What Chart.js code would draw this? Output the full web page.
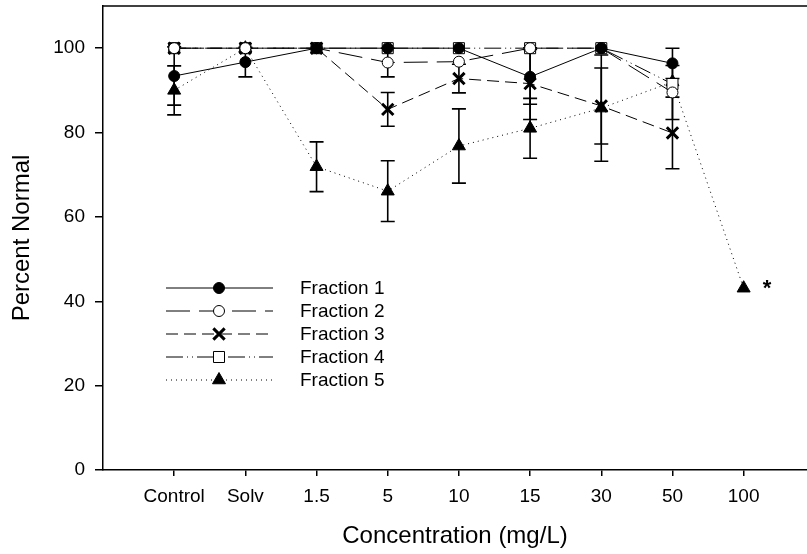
<!DOCTYPE html>
<html>
<head>
<meta charset="utf-8">
<script src="https://cdn.jsdelivr.net/npm/chart.js@4/dist/chart.umd.min.js"></script>
<style>
  html, body { margin: 0; padding: 0; background: #fff; overflow: hidden; }
  canvas { display: block; }
</style>
</head>
<body>
<canvas id="chart" width="807" height="554"></canvas>
<script>
const categories = ["Control", "Solv", "1.5", "5", "10", "15", "30", "50", "100"];
const yTicks = [0, 20, 40, 60, 80, 100];

const fraction1 = [93.4, 96.7, 100, 100, 100, 93.2, 100, 96.4, null];
const fraction1Err = [6.9, 3.5, 0, 0, 0, 6.5, 0, 3.6, null];
const fraction2 = [100, 100, 100, 96.6, 96.8, 100, 100, 89.5, null];
const fraction2Err = [0, 0, 0, 3.4, 0, 0, 0, 6.4, null];
const fraction3 = [100, 100, 100, 85.5, 92.8, 91.6, 86.3, 79.9, null];
const fraction3Err = [0, 0, 0, 4, 3.4, 8.5, 9, 8.5, null];
const fraction4 = [100, 100, 100, 100, 100, 100, 100, 91.5, null];
const fraction4Err = [0, 0, 0, 0, 0, 0, 0, 0, null];
const fraction5 = [90, 100, 71.9, 66.1, 76.8, 81, 85.8, 92, 43.1];
const fraction5Err = [5.8, 0, 5.9, 7.2, 8.8, 7.1, 12.6, 0, 0];

const FONT = "'Liberation Sans', Arial, sans-serif";

function toPoints(values) {
  return values.map((v, i) => ({ x: i, y: v }));
}

function series(label, values, errs, style, fill, dash, radius, bw) {
  return {
    label: label,
    data: toPoints(values),
    errors: errs,
    borderColor: "#000",
    borderWidth: 1,
    borderDash: dash,
    pointStyle: style,
    pointRadius: radius,
    pointHoverRadius: radius,
    pointBackgroundColor: fill,
    pointBorderColor: "#000",
    pointBorderWidth: bw,
    spanGaps: false,
  };
}

// error bars, drawn under the markers
const errorBars = {
  id: "errorBars",
  beforeDatasetsDraw(chart) {
    const ctx = chart.ctx;
    const xs = chart.scales.x, ys = chart.scales.y;
    ctx.save();
    ctx.strokeStyle = "#000";
    ctx.lineWidth = 1.6;
    chart.data.datasets.forEach((ds) => {
      ds.data.forEach((p, i) => {
        const e = ds.errors[i];
        if (p.y == null || !e) return;
        const x = xs.getPixelForValue(p.x);
        const y1 = ys.getPixelForValue(p.y + e);
        const y2 = ys.getPixelForValue(p.y - e);
        ctx.beginPath();
        ctx.moveTo(x, y1); ctx.lineTo(x, y2);
        ctx.moveTo(x - 7, y1); ctx.lineTo(x + 7, y1);
        ctx.moveTo(x - 7, y2); ctx.lineTo(x + 7, y2);
        ctx.stroke();
      });
    });
    ctx.restore();
  },
};

// top frame line, the legend inside the plot and the asterisk
const extras = {
  id: "extras",
  afterDraw(chart) {
    const ctx = chart.ctx;
    const a = chart.chartArea;
    ctx.save();
    ctx.strokeStyle = "#000";
    ctx.lineWidth = 1.5;
    ctx.beginPath();
    ctx.moveTo(a.left, a.top);
    ctx.lineTo(a.right, a.top);
    ctx.stroke();

    chart.data.datasets.forEach((ds, i) => {
      const y = 288 + i * 23;
      ctx.strokeStyle = "#000";
      ctx.lineWidth = 1;
      ctx.setLineDash(ds.borderDash || []);
      ctx.beginPath();
      ctx.moveTo(166, y);
      ctx.lineTo(273, y);
      ctx.stroke();
      ctx.setLineDash([]);
      ctx.fillStyle = ds.pointBackgroundColor;
      ctx.strokeStyle = "#000";
      ctx.lineWidth = ds.pointBorderWidth;
      Chart.helpers.drawPoint(ctx, {
        pointStyle: ds.pointStyle, radius: ds.pointRadius,
        borderWidth: ds.pointBorderWidth, rotation: 0,
      }, 219, y);
      ctx.fillStyle = "#000";
      ctx.font = "19px " + FONT;
      ctx.textAlign = "left";
      ctx.textBaseline = "middle";
      ctx.fillText(ds.label, 300, y + 1);
    });

    const last = fraction5.length - 1;
    const px = chart.scales.x.getPixelForValue(last);
    const py = chart.scales.y.getPixelForValue(fraction5[last]);
    ctx.fillStyle = "#000";
    ctx.font = "bold 22px " + FONT;
    ctx.textAlign = "left";
    ctx.textBaseline = "middle";
    ctx.fillText("*", px + 19, py + 1);
    ctx.restore();
  },
};

new Chart(document.getElementById("chart"), {
  type: "line",
  data: {
    datasets: [
      series("Fraction 1", fraction1, fraction1Err, "circle", "#000", [], 5.5, 1),
      series("Fraction 2", fraction2, fraction2Err, "circle", "#fff", [24, 9], 5.5, 1),
      series("Fraction 3", fraction3, fraction3Err, "crossRot", "#000", [12, 6], 8, 3),
      series("Fraction 4", fraction4, fraction4Err, "rect", "#fff", [17, 4, 1, 4, 1, 4], 7.8, 1),
      series("Fraction 5", fraction5, fraction5Err, "triangle", "#000", [1, 4], 7.5, 1),
    ],
  },
  options: {
    responsive: false,
    animation: false,
    events: [],
    layout: { autoPadding: false, padding: { top: 6, right: 0, left: 0, bottom: 0 } },
    plugins: {
      legend: { display: false },
      tooltip: { enabled: false },
    },
    scales: {
      x: {
        type: "linear",
        min: -1,
        max: 8.89,
        afterBuildTicks: (s) => { s.ticks = categories.map((c, i) => ({ value: i })); },
        afterFit: (s) => {
          s.height = 84;
          s.paddingLeft = 0;
          s.paddingRight = 0;
        },
        ticks: {
          callback: (v) => categories[v],
          color: "#000",
          font: { family: FONT, size: 19 },
          padding: 9,
          maxRotation: 0,
          autoSkip: false,
        },
        grid: { drawOnChartArea: false, drawTicks: true, tickLength: 6, color: "#000", lineWidth: 1.5 },
        border: { display: true, color: "#000", width: 1.5 },
        title: {
          display: true,
          text: "Concentration (mg/L)",
          color: "#000",
          font: { family: FONT, size: 24 },
          padding: { top: 0, bottom: 3 },
        },
      },
      y: {
        min: 0,
        max: 110,
        afterBuildTicks: (s) => { s.ticks = yTicks.map((v) => ({ value: v })); },
        afterFit: (s) => {
          s.width = 103;
          s.paddingTop = 0;
          s.paddingBottom = 0;
        },
        ticks: {
          color: "#000",
          font: { family: FONT, size: 19 },
          padding: 10,
        },
        grid: { drawOnChartArea: false, drawTicks: true, tickLength: 8, color: "#000", lineWidth: 1.5 },
        border: { display: true, color: "#000", width: 1.5 },
        title: {
          display: true,
          text: "Percent Normal",
          color: "#000",
          font: { family: FONT, size: 24 },
          padding: { top: 8, bottom: 0 },
        },
      },
    },
  },
  plugins: [errorBars, extras],
});
</script>
</body>
</html>
